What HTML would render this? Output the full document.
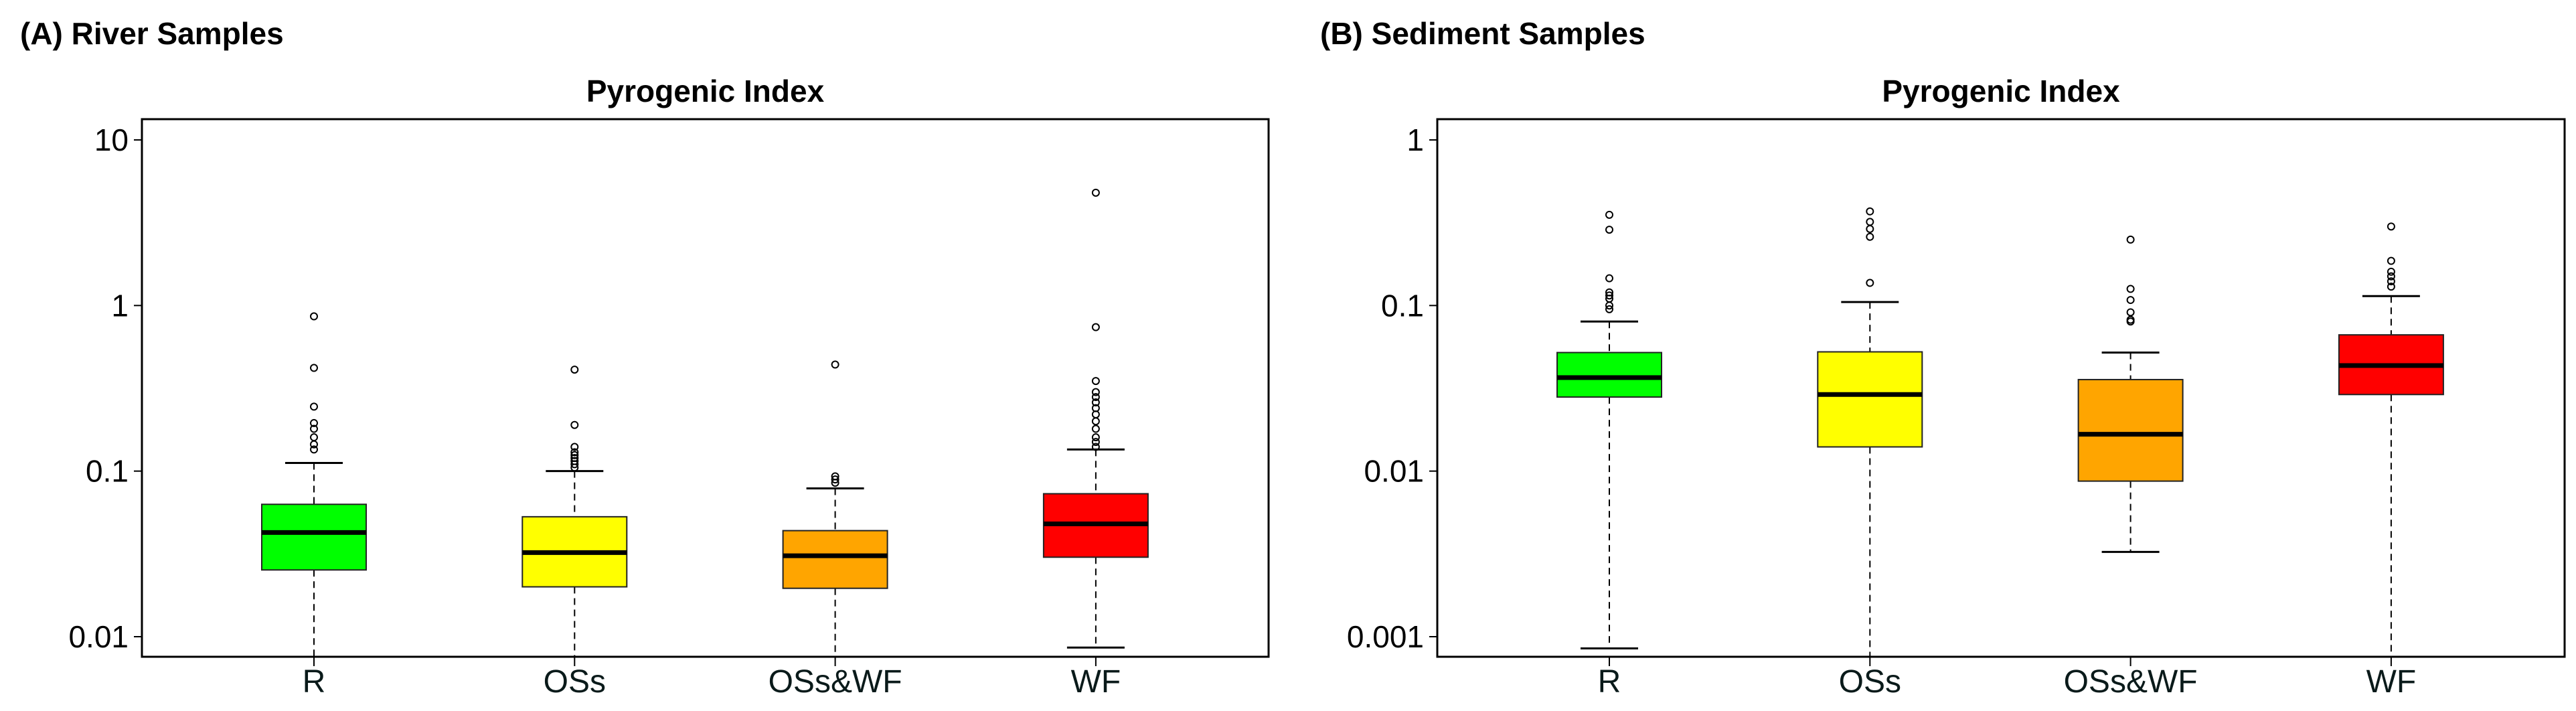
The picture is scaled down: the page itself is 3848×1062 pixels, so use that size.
<!DOCTYPE html>
<html><head><meta charset="utf-8"><style>
html,body{margin:0;padding:0;background:#fff;}
svg{display:block;font-family:"Liberation Sans",Arial,sans-serif;}
</style></head><body>
<svg id="chart" width="3848" height="1062" viewBox="0 0 3848 1062"></svg>
<script>
const categories = ["R","OSs","OSs&WF","WF"];
const colors = ["#00ff00","#ffff00","#ffa500","#ff0000"];
// River samples
const riverLo = [0.005, 0.005, 0.005, 0.0086];
const riverQ1 = [0.0253, 0.020, 0.0196, 0.0302];
const riverMed = [0.0426, 0.0322, 0.0308, 0.048];
const riverQ3 = [0.063, 0.053, 0.0437, 0.073];
const riverHi = [0.112, 0.100, 0.0786, 0.135];
const riverOut = [
  [0.86,0.42,0.245,0.195,0.18,0.16,0.145,0.135],
  [0.41,0.19,0.14,0.13,0.125,0.12,0.115,0.11,0.105],
  [0.44,0.093,0.089,0.085],
  [4.8,0.74,0.35,0.3,0.28,0.26,0.24,0.22,0.2,0.18,0.16,0.15,0.14]
];
const riverTicks = [10,1,0.1,0.01];
const riverTickLabels = ["10","1","0.1","0.01"];
// Sediment samples
const sedLo = [0.00085, 0.0005, 0.00325, 0.0005];
const sedQ1 = [0.028, 0.014, 0.0087, 0.029];
const sedMed = [0.0367, 0.029, 0.0167, 0.0434];
const sedQ3 = [0.052, 0.0525, 0.0357, 0.0665];
const sedHi = [0.080, 0.105, 0.052, 0.114];
const sedOut = [
  [0.353,0.287,0.146,0.12,0.115,0.11,0.1,0.095],
  [0.37,0.32,0.29,0.26,0.137],
  [0.25,0.126,0.108,0.091,0.082,0.08],
  [0.3,0.186,0.16,0.15,0.14,0.13]
];
const sedTicks = [1,0.1,0.01,0.001];
const sedTickLabels = ["1","0.1","0.01","0.001"];

const NS="http://www.w3.org/2000/svg";
const svg=document.getElementById('chart');
function mk(tag,attrs,parent){const e=document.createElementNS(NS,tag);for(const k in attrs)e.setAttribute(k,attrs[k]);(parent||svg).appendChild(e);return e;}

function panel(opt){
  const g=mk('g',{});
  
  
  const L=opt.left,R=opt.right,T=178,B=981;
  const yTop=209,yBot=951; // tick positions for first and last tick
  const topLog=Math.log10(opt.ticks[0]), botLog=Math.log10(opt.ticks[opt.ticks.length-1]);
  const y=v=>yBot-(Math.log10(v)-botLog)/(topLog-botLog)*(yBot-yTop);
  const x0=opt.cx0, dx=389.3;
  const x=i=>x0+i*dx;
  const clip='clip-'+opt.name;
  const cp=mk('clipPath',{id:clip},g);mk('rect',{x:L,y:T,width:R-L,height:B-T},cp);

  let t=mk('text',{x:opt.labelX,y:66,'font-size':46,'font-weight':'bold'},g);t.textContent=opt.label;
  
  
  t=mk('text',{x:(L+R)/2,y:152,'font-size':46,'font-weight':'bold','text-anchor':'middle'},g);t.textContent='Pyrogenic Index';
  
  

  const pg=mk('g',{'clip-path':'url(#'+clip+')'},g);
  for(let i=0;i<categories.length;i++){
    const cx=x(i),hw=78,cw=43;
    const bg=mk('g',{},pg);
    
    
    mk('line',{x1:cx,x2:cx,y1:y(opt.hi[i]),y2:y(opt.q3[i]),stroke:'#000','stroke-width':2,'stroke-dasharray':'10,7'},bg);
    mk('line',{x1:cx,x2:cx,y1:y(opt.q1[i]),y2:y(opt.lo[i]),stroke:'#000','stroke-width':2,'stroke-dasharray':'10,7'},bg);
    mk('line',{x1:cx-cw,x2:cx+cw,y1:y(opt.hi[i]),y2:y(opt.hi[i]),stroke:'#000','stroke-width':3},bg);
    mk('line',{x1:cx-cw,x2:cx+cw,y1:y(opt.lo[i]),y2:y(opt.lo[i]),stroke:'#000','stroke-width':3},bg);
    mk('rect',{x:cx-hw,y:y(opt.q3[i]),width:2*hw,height:y(opt.q1[i])-y(opt.q3[i]),fill:colors[i],stroke:'#222','stroke-width':2},bg);
    mk('line',{x1:cx-hw,x2:cx+hw,y1:y(opt.med[i]),y2:y(opt.med[i]),stroke:'#000','stroke-width':7},bg);
    for(const v of opt.out[i]){
      const c=mk('circle',{cx:cx,cy:y(v),r:5,fill:'none',stroke:'#000','stroke-width':2},bg);
      
      
    }
  }
  const frame=mk('rect',{x:L,y:T,width:R-L,height:B-T,fill:'none',stroke:'#000','stroke-width':3},g);
  
  
  for(let k=0;k<opt.ticks.length;k++){
    const ty=y(opt.ticks[k]);
    mk('line',{x1:L-12,x2:L,y1:ty,y2:ty,stroke:'#000','stroke-width':2},g);
    const tl=mk('text',{x:L-20,y:ty+16,'font-size':46,'text-anchor':'end'},g);tl.textContent=opt.tickLabels[k];
    
    
  }
  for(let i=0;i<categories.length;i++){
    mk('line',{x1:x(i),x2:x(i),y1:B,y2:B+14,stroke:'#000','stroke-width':2},g);
    const cl=mk('text',{x:x(i),y:1034,'font-size':48,'text-anchor':'middle',fill:'#0a1a1a'},g);cl.textContent=categories[i];
    
    
  }
}
panel({name:'river-panel',label:'(A) River Samples',labelX:30,left:212,right:1895,cx0:469,ticks:riverTicks,tickLabels:riverTickLabels,lo:riverLo,q1:riverQ1,med:riverMed,q3:riverQ3,hi:riverHi,out:riverOut});
panel({name:'sediment-panel',label:'(B) Sediment Samples',labelX:1972,left:2147,right:3831,cx0:2404,ticks:sedTicks,tickLabels:sedTickLabels,lo:sedLo,q1:sedQ1,med:sedMed,q3:sedQ3,hi:sedHi,out:sedOut});
</script>
</body></html>
